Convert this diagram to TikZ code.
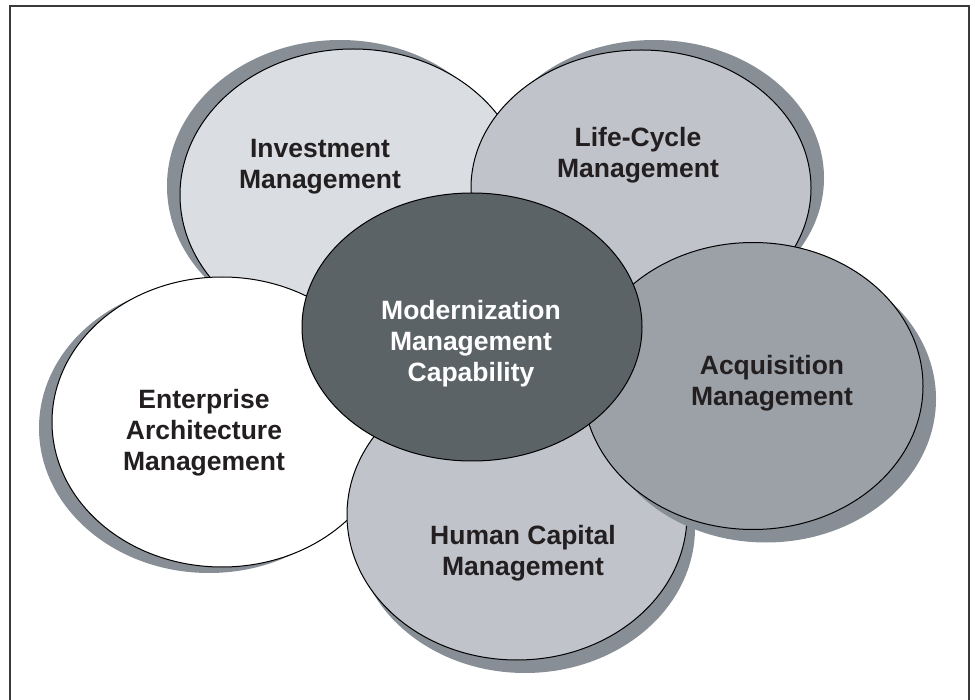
\documentclass[tikz,border=0pt]{standalone}
\usepackage{fontspec}
\setmainfont{Liberation Sans}
\usetikzlibrary{shapes.geometric,shadows}
\definecolor{invfill}{HTML}{DADDE2}
\definecolor{lifefill}{HTML}{C0C3CA}
\definecolor{acqfill}{HTML}{9BA1A7}
\definecolor{modfill}{HTML}{5C6366}
\definecolor{shadowgrey}{HTML}{878E95}
\definecolor{inkdark}{HTML}{231F20}
\definecolor{framegrey}{HTML}{3A3A3A}
\begin{document}
\begin{tikzpicture}[x=1pt, y=-1pt,
  blob/.style={ellipse, draw=black, line width=1pt, inner sep=0pt},
  lbl/.style={align=center, text=inkdark, font=\bfseries\fontsize{26.5}{31}\selectfont},
  shade/.style 2 args={drop shadow={shadow xshift=#1pt, shadow yshift=#2pt, fill=shadowgrey, opacity=1}}]
\useasboundingbox (0,0) rectangle (975,700);
\draw[framegrey, line width=2pt] (10,702) -- (10,6.5) -- (969,6.5) -- (969,702);

% outer ring, back to front
\node[blob, fill=invfill, minimum width=346pt, minimum height=292pt, shade={-13}{9}] (inv) at (353,195) {};
\node[blob, fill=lifefill, minimum width=340pt, minimum height=276pt, shade={13}{10}] (life) at (641,188) {};
\node[blob, fill=white, minimum width=340pt, minimum height=290pt, shade={-13}{-6}] (ent) at (222,422) {};
\node[blob, fill=lifefill, minimum width=340pt, minimum height=290pt, shade={8}{-13}] (hum) at (517,515) {};
\node[blob, fill=acqfill, minimum width=340pt, minimum height=287pt, shade={13}{-13}] (acq) at (753,386) {};

% hub on top
\node[blob, fill=modfill, minimum width=340pt, minimum height=268pt] (mod) at (472,327) {};

\node[lbl] (t-inv) at (320,167) {Investment\\Management};
\node[lbl] (t-life) at (638,155) {Life-Cycle\\Management};
\node[lbl] (t-ent) at (204,433) {Enterprise\\Architecture\\Management};
\node[lbl] (t-hum) at (523,553) {Human Capital\\Management};
\node[lbl] (t-acq) at (772,383) {Acquisition\\Management};
\node[lbl, text=white] (t-mod) at (471,344) {Modernization\\Management\\Capability};
\end{tikzpicture}
\end{document}
